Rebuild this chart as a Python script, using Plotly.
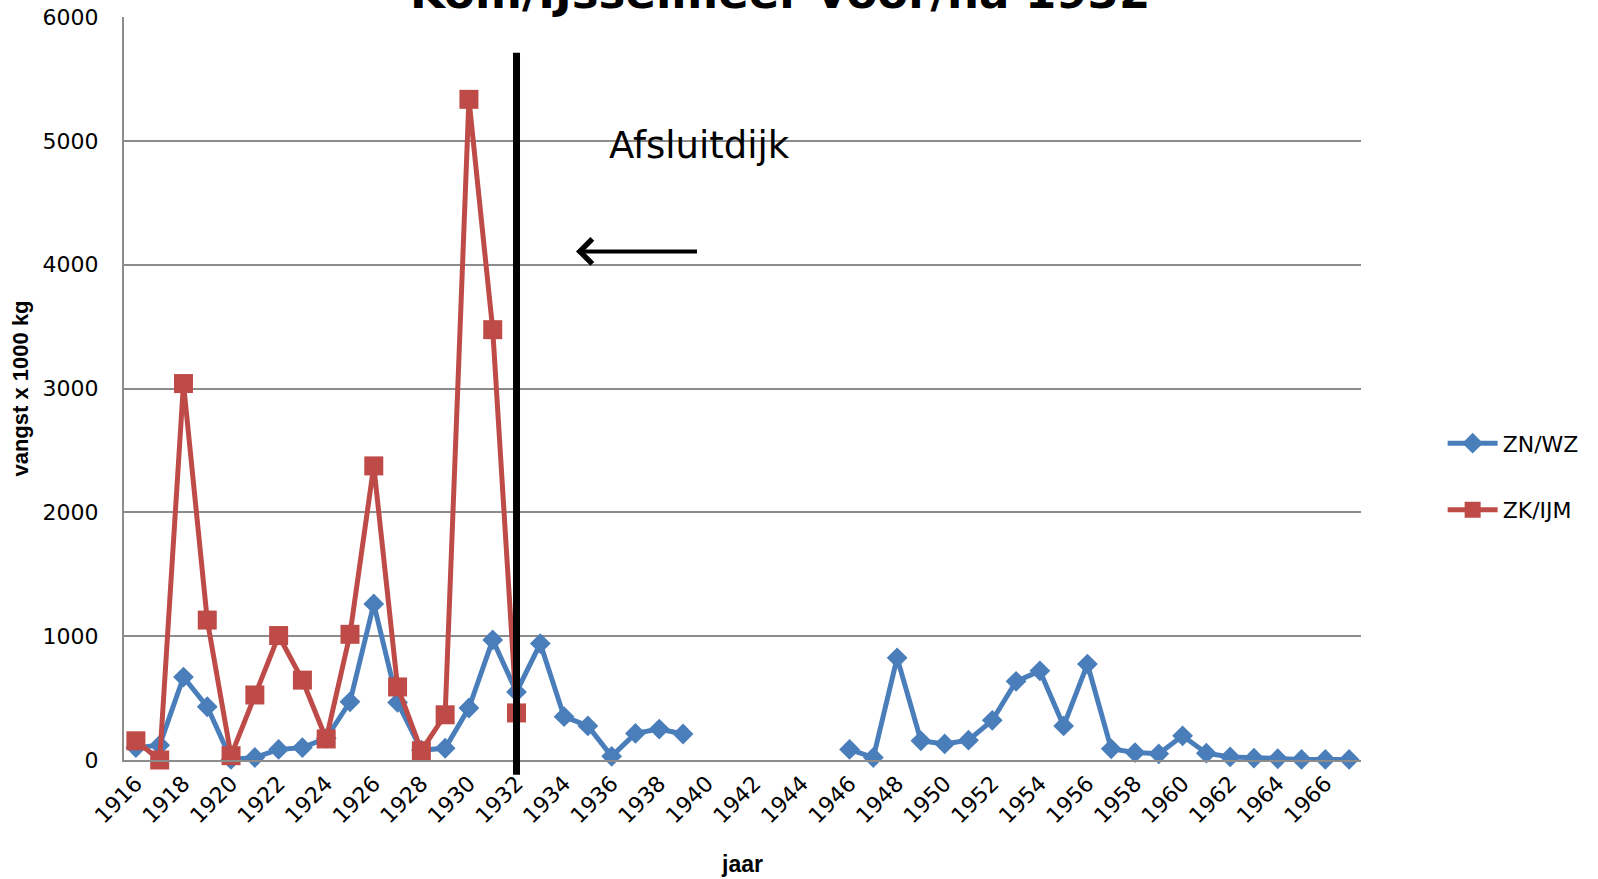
import plotly.graph_objects as go

# Vangst per jaar (x 1000 kg)
years = list(range(1916, 1968))

zn_wz = [
    100, 120, 670, 430, 5, 20, 85, 100, 175, 470,
    1260, 465, 80, 95, 420, 970, 550, 940, 350, 275,
    30, 215, 250, 210, None, None, None, None, None, None,
    85, 20, 825, 155, 130, 160, 320, 635, 720, 275,
    775, 90, 60, 50, 195, 55, 25, 15, 10, 5,
    5, 5,
]

zk_ijm = [
    155, 0, 3040, 1130, 35, 525, 1005, 645, 170, 1015,
    2375, 590, 75, 365, 5335, 3475, 380,
] + [None] * 35

tick_years = list(range(1916, 1967, 2))
tick_labels = [str(y) for y in tick_years]

BLUE = "#4A7EBB"
RED = "#BE4B48"
GRID = "#8c8c8c"
TICK_FONT = {"family": "DejaVu Sans", "size": 22, "color": "#000"}
TITLE_FONT = "Liberation Sans Narrow, Liberation Sans"

fig = go.Figure()
fig.add_trace(go.Scatter(
    x=years,
    y=zn_wz,
    name="ZN/WZ",
    mode="lines+markers",
    line={"color": BLUE, "width": 5},
    marker={"symbol": "diamond", "size": 16, "color": BLUE},
    legendgroup="a",
    connectgaps=False,
    cliponaxis=False,
))
fig.add_trace(go.Scatter(
    x=years,
    y=zk_ijm,
    name="ZK/IJM",
    mode="lines+markers",
    line={"color": RED, "width": 5},
    marker={"symbol": "square", "size": 19, "color": RED},
    legendgroup="b",
    cliponaxis=False,
))

# Afsluitdijk (1932)
fig.add_shape(
    type="line",
    xref="x", yref="paper",
    x0=1932, x1=1932, y0=-0.02, y1=0.952,
    line={"color": "#000", "width": 7},
)

fig.add_annotation(
    x=1939.7, y=4965, xref="x", yref="y",
    text="Afsluitdijk", showarrow=False,
    font={"family": "DejaVu Sans", "size": 37, "color": "#000"},
)
fig.add_annotation(
    x=1934.5, y=4107, ax=1939.65, ay=4107,
    xref="x", yref="y", axref="x", ayref="y",
    text="", showarrow=True,
    arrowhead=4, arrowsize=1.2, arrowwidth=4, arrowcolor="#000",
)

# title sits partly above the canvas, as in the original
fig.add_annotation(
    x=0.53, y=1.0, xref="paper", yref="paper", yanchor="bottom",
    yshift=-4,
    text="<b>Kom/IJsselmeer voor/na 1932</b>", showarrow=False,
    font={"family": "DejaVu Sans", "size": 45, "color": "#000"},
)

fig.update_layout(
    width=1598,
    height=879,
    margin={"l": 124, "r": 237, "t": 17, "b": 119},
    plot_bgcolor="#fff",
    paper_bgcolor="#fff",
    showlegend=True,
    legend={
        "x": 1.066, "y": 0.381, "xanchor": "left", "yanchor": "middle",
        "traceorder": "grouped", "tracegroupgap": 35,
        "font": {"family": "DejaVu Sans", "size": 22, "color": "#000"},
        "itemwidth": 50,
    },
    xaxis={
        "range": [1915.5, 1967.5],
        "tickmode": "array",
        "tickvals": tick_years,
        "ticktext": tick_labels,
        "tickangle": -45,
        "tickfont": TICK_FONT,
        "showgrid": False,
        "showline": True,
        "linecolor": GRID,
        "linewidth": 2,
        "zeroline": False,
        "ticks": "",
        "automargin": False,
        "title": {
            "text": "<b>jaar</b>",
            "font": {"family": TITLE_FONT, "size": 23, "color": "#000"},
            "standoff": 29,
        },
    },
    yaxis={
        "range": [0, 6000],
        "tickvals": [0, 1000, 2000, 3000, 4000, 5000, 6000],
        "tickfont": TICK_FONT,
        "showgrid": True,
        "gridcolor": GRID,
        "gridwidth": 1.5,
        "showline": True,
        "linecolor": GRID,
        "linewidth": 2,
        "zeroline": False,
        "ticks": "",
        "ticklabelstandoff": 19,
        "automargin": False,
        "title": {
            "text": "<b>vangst x 1000 kg</b>",
            "font": {"family": TITLE_FONT, "size": 22, "color": "#000"},
            "standoff": 8,
        },
    },
)

# drop the default page margin so the figure sits at the window corner
fig.write_html(
    "out.html",
    config={"displayModeBar": False},
    post_script="document.body.style.margin = '0';",
)
